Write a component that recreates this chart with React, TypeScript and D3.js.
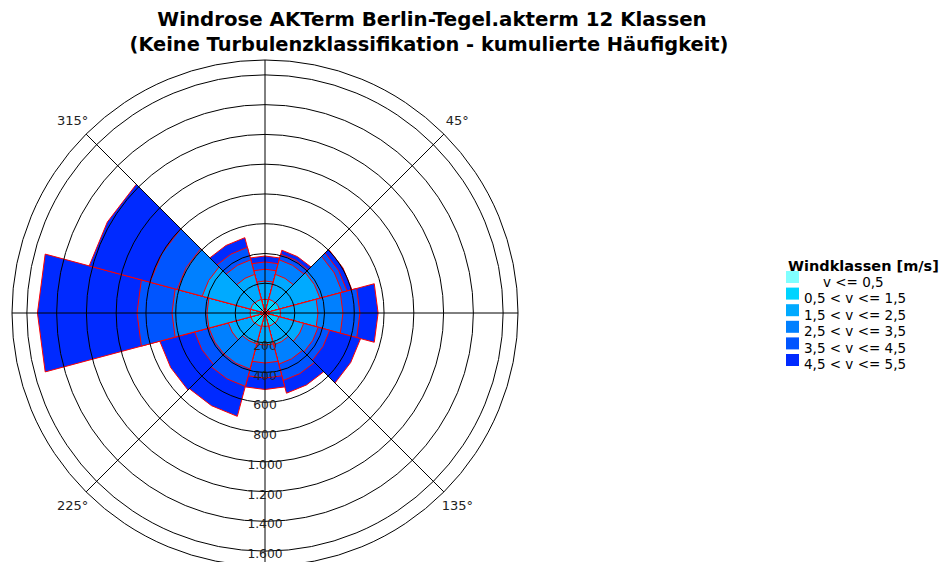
import React from "react";
import * as d3 from "d3";

const sectors = [0, 30, 60, 90, 120, 150, 180, 210, 240, 270, 300, 330];
// cumulative frequencies per wind class
const class1 = [25, 25, 28, 28, 25, 22, 22, 24, 26, 28, 26, 24];
const class2 = [92, 96, 100, 104, 96, 92, 90, 94, 98, 100, 100, 95];
const class3 = [215, 269, 383, 356, 269, 222, 215, 215, 255, 390, 437, 269];
const class4 = [294, 370, 538, 524, 370, 356, 336, 390, 390, 625, 611, 370];
const class5 = [343, 410, 571, 638, 450, 470, 437, 511, 490, 860, 800, 457];
const class6 = [383, 437, 605, 760, 665, 558, 514, 719, 732, 1529, 1223, 524];

const classLabels = [
  "v <= 0,5",
  "0,5 < v <= 1,5",
  "1,5 < v <= 2,5",
  "2,5 < v <= 3,5",
  "3,5 < v <= 4,5",
  "4,5 < v <= 5,5",
];
const classColors = ["#80ffff", "#00d4ff", "#00aaff", "#0080ff", "#0055ff", "#002aff"];
const ringTicks = [200, 400, 600, 800, 1000, 1200, 1400, 1600];
const ringLabels = ["200", "400", "600", "800", "1.000", "1.200", "1.400", "1.600"];
const angleLabels = ["315°", "45°", "225°", "135°"];
const angleLabelDirs = [315, 45, 225, 135];
const gridAngles = [0, 45, 90, 135, 180, 225, 270, 315];

const W = 949;
const H = 562;
const cx = 265;
const cy = 313;
const maxV = 1700;
const maxR = 253;
const sectorWidth = 30;

export default function App() {
  const r = d3.scaleLinear().domain([0, maxV]).range([0, maxR]);
  const classes = [class1, class2, class3, class4, class5, class6];
  const pt = (deg: number, rad: number): [number, number] => {
    const a = (deg * Math.PI) / 180;
    return [cx + rad * Math.sin(a), cy - rad * Math.cos(a)];
  };
  const line = d3.line();

  const wedges: JSX.Element[] = [];
  sectors.forEach((s, si) => {
    for (let k = classes.length - 1; k >= 0; k--) {
      const rad = r(classes[k][si]);
      const pts: [number, number][] = [
        [cx, cy],
        pt(s - sectorWidth / 2, rad),
        pt(s, rad),
        pt(s + sectorWidth / 2, rad),
      ];
      wedges.push(
        <path
          key={`w${si}-${k}`}
          d={line(pts) + "Z"}
          fill={classColors[k]}
          stroke="#ff0000"
          strokeWidth={1}
          strokeLinejoin="miter"
        />
      );
    }
  });

  const font = "'DejaVu Sans', Verdana, sans-serif";

  return (
    <div style={{ position: "absolute", left: 0, top: 0 }}>
      <svg width={W} height={H} style={{ display: "block", background: "#fff" }}>
        <text x={432} y={26} textAnchor="middle" fontFamily={font} fontWeight="bold" fontSize={19.8} fill="#000">
          Windrose AKTerm Berlin-Tegel.akterm 12 Klassen
        </text>
        <text x={429} y={51} textAnchor="middle" fontFamily={font} fontWeight="bold" fontSize={19.4} fill="#000">
          (Keine Turbulenzklassifikation - kumulierte Häufigkeit)
        </text>
        {wedges}
        <g fill="none" stroke="#000" strokeWidth={1}>
          {ringTicks.map((t) => (
            <circle key={t} cx={cx} cy={cy} r={r(t)} />
          ))}
          <circle cx={cx} cy={cy} r={r(maxV)} />
          {gridAngles.map((a) => {
            const [x2, y2] = pt(a, r(maxV));
            return <line key={a} x1={cx} y1={cy} x2={x2} y2={y2} />;
          })}
        </g>
        <g fontFamily={font} fontSize={12.3} fill="#222" textAnchor="middle">
          {ringTicks.map((t, i) => (
            <text key={t} x={cx} y={cy + r(t) + 3} dominantBaseline="central">
              {ringLabels[i]}
            </text>
          ))}
        </g>
        <g fontFamily={font} fontSize={13} fill="#222" textAnchor="middle">
          {angleLabels.map((l, i) => {
            const [x, y] = pt(angleLabelDirs[i], 272);
            return (
              <text key={l} x={x} y={y} dominantBaseline="central">
                {l}
              </text>
            );
          })}
        </g>
        <g fontFamily={font}>
          <text x={788} y={271} fontWeight="bold" fontSize={14.5} fill="#000">
            Windklassen [m/s]
          </text>
          {classLabels.map((l, i) => (
            <g key={l}>
              <rect x={786} y={271 + i * 16.6} width={13} height={12} fill={classColors[i]} />
              <text
                x={i === 0 ? 823 : 804}
                y={282 + i * 16.4}
                fontSize={13.5}
                fill="#000"
                dominantBaseline="central"
              >
                {l}
              </text>
            </g>
          ))}
        </g>
      </svg>
    </div>
  );
}
